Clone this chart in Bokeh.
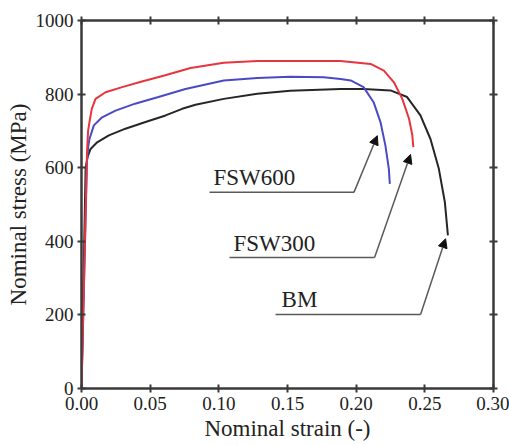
from bokeh.plotting import figure
from bokeh.models import (LinearAxis, FixedTicker, NumeralTickFormatter, Range1d,
                          Arrow, NormalHead)
from bokeh.core.properties import value
from bokeh.embed import file_html
from bokeh.resources import INLINE

# ---- data ----
bm_strain = [0, 0.0030, 0.0045, 0.0066, 0.0114, 0.0199, 0.032, 0.0466, 0.0612, 0.0733,
             0.083, 0.1036, 0.128, 0.152, 0.1886, 0.2054, 0.225, 0.2371, 0.2468,
             0.2541, 0.2602, 0.2646, 0.2668]
bm_stress = [0, 600, 630, 651, 669, 688, 706, 724, 742, 760,
             771, 787, 801, 809, 814, 814, 810, 792, 742,
             678, 597, 506, 416]

fsw300_strain = [0, 0.0040, 0.0048, 0.0058, 0.0075, 0.0102, 0.0175, 0.0296, 0.044,
                 0.061, 0.0794, 0.1036, 0.128, 0.152, 0.1886, 0.2105, 0.2202,
                 0.2275, 0.2336, 0.2385, 0.2409, 0.2416]
fsw300_stress = [0, 640, 700, 724, 760, 787, 805, 819, 834,
                 851, 871, 885, 890, 890, 890, 882, 864,
                 832, 787, 733, 688, 656]

fsw600_strain = [0, 0.0040, 0.0050, 0.0058, 0.009, 0.015, 0.0248, 0.039, 0.056,
                 0.0757, 0.1036, 0.128, 0.152, 0.1765, 0.1886, 0.196, 0.2054,
                 0.2127, 0.2177, 0.2213, 0.2238, 0.2245]
fsw600_stress = [0, 620, 660, 678, 715, 737, 755, 774, 792,
                 814, 837, 844, 847, 846, 841, 837, 819,
                 778, 724, 660, 597, 556]

label_text = ["FSW600", "FSW300", "BM"]
label_x = [0.0961, 0.1107, 0.1457]
label_y = [573, 393, 241]
underline_x0 = [0.0932, 0.1078, 0.1413]
underline_x1 = [0.1984, 0.2134, 0.2469]
underline_y = [533, 356, 201]
arrow_tip_x = [0.2154, 0.2396, 0.2651]
arrow_tip_y = [687, 636, 407]

x_ticks = [0.0, 0.05, 0.10, 0.15, 0.20, 0.25, 0.30]
y_ticks = [0, 200, 400, 600, 800, 1000]

FONT = "Liberation Serif"
AX = "#3a3a3a"

p = figure(width=509, height=445, output_backend="svg", toolbar_location=None,
           x_range=Range1d(0, 0.30), y_range=Range1d(0, 1000),
           min_border_left=81, min_border_right=16, min_border_top=20, min_border_bottom=57,
           x_axis_label="Nominal strain (-)", y_axis_label="Nominal stress (MPa)")
p.background_fill_color = "white"
p.border_fill_color = "white"
p.grid.visible = False
p.outline_line_color = AX
p.outline_line_width = 2

def style_axis(ax, show_labels=True):
    ax.axis_line_color = AX
    ax.axis_line_width = 2
    ax.major_tick_line_color = AX
    ax.major_tick_line_width = 2
    ax.major_tick_in = 4
    ax.major_tick_out = 4
    ax.minor_tick_line_color = None
    ax.major_label_text_font = FONT
    ax.major_label_text_color = "#222222"
    ax.axis_label_text_font = FONT
    ax.axis_label_text_font_style = "normal"
    ax.axis_label_text_color = "#222222"
    ax.axis_label_text_font_size = "22px"
    if show_labels:
        ax.major_label_text_font_size = "19px"
    else:
        ax.major_label_text_font_size = "1px"
        ax.major_label_text_color = None
        ax.major_label_standoff = 0

for ax in p.xaxis:
    style_axis(ax)
    ax.ticker = FixedTicker(ticks=x_ticks)
    ax.formatter = NumeralTickFormatter(format="0.00")
    ax.major_label_standoff = 4
    ax.axis_label_standoff = 3
    ax.axis_label_text_font_size = "23px"
for ax in p.yaxis:
    style_axis(ax)
    ax.ticker = FixedTicker(ticks=y_ticks)
    ax.major_label_standoff = 4
    ax.axis_label_standoff = 2
    ax.axis_label_text_font_size = "23px"

top = LinearAxis(ticker=FixedTicker(ticks=x_ticks))
style_axis(top, show_labels=False)
p.add_layout(top, "above")
right = LinearAxis(ticker=FixedTicker(ticks=y_ticks))
style_axis(right, show_labels=False)
p.add_layout(right, "right")

p.line(bm_strain, bm_stress, line_color="#262626", line_width=2)
p.line(fsw600_strain, fsw600_stress, line_color="#4a4ac4", line_width=2)
p.line(fsw300_strain, fsw300_stress, line_color="#e8343c", line_width=2)

p.segment(x0=underline_x0, y0=underline_y, x1=underline_x1, y1=underline_y,
          line_color="#5a5a5a", line_width=1.5)
for i in range(len(label_text)):
    p.add_layout(Arrow(end=NormalHead(size=9, fill_color="#111111", line_color="#111111"),
                       x_start=underline_x1[i], y_start=underline_y[i],
                       x_end=arrow_tip_x[i], y_end=arrow_tip_y[i],
                       line_color="#5a5a5a", line_width=1.5))

p.text(x=label_x, y=label_y, text=label_text, text_font=value(FONT),
       text_font_size="23px", text_color="#222222", text_align="left",
       text_baseline="alphabetic")

open("out.html", "w").write(file_html(p, INLINE))
